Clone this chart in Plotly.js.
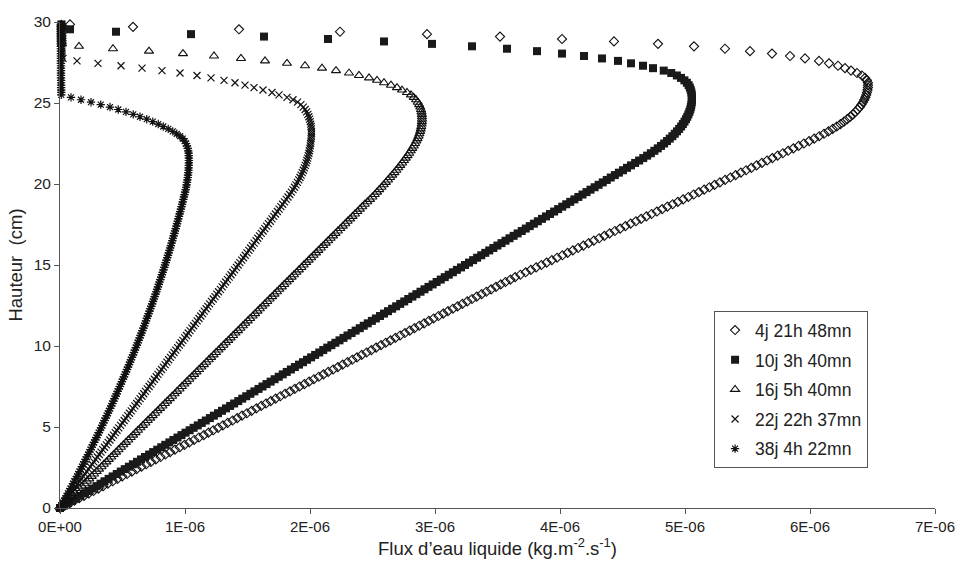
<!DOCTYPE html>
<html>
<head>
<meta charset="utf-8">
<script src="https://cdn.plot.ly/plotly-3.0.1.min.js"></script>
<style>html,body{margin:0;padding:0;background:#fff;}#chart{width:960px;height:563px;}</style>
</head>
<body>
<div id="chart"></div>
<script>
// Heights (cm)
const hauteur = [
0,0.15,0.3,0.45,0.6,0.75,0.9,1.05,1.2,1.35,1.5,1.65,1.8,1.95,2.1,2.25,2.4,2.55,2.7,2.85,
3,3.15,3.3,3.45,3.6,3.75,3.9,4.05,4.2,4.35,4.5,4.65,4.8,4.95,5.1,5.25,5.4,5.55,5.7,5.85,
6,6.15,6.3,6.45,6.6,6.75,6.9,7.05,7.2,7.35,7.5,7.65,7.8,7.95,8.1,8.25,8.4,8.55,8.7,8.85,
9,9.15,9.3,9.45,9.6,9.75,9.9,10.05,10.2,10.35,10.5,10.65,10.8,10.95,11.1,11.25,11.4,11.55,11.7,11.85,
12,12.15,12.3,12.45,12.6,12.75,12.9,13.05,13.2,13.35,13.5,13.65,13.8,13.95,14.1,14.25,14.4,14.55,14.7,14.85,
15,15.15,15.3,15.45,15.6,15.75,15.9,16.05,16.2,16.35,16.5,16.65,16.8,16.95,17.1,17.25,17.4,17.55,17.7,17.85,
18,18.15,18.3,18.45,18.6,18.75,18.9,19.05,19.2,19.35,19.5,19.65,19.8,19.95,20.1,20.25,20.4,20.55,20.7,20.85,
21,21.15,21.3,21.45,21.6,21.75,21.9,22.05,22.2,22.35,22.5,22.65,22.8,22.95,23.1,23.25,23.4,23.55,23.7,23.85,
24,24.15,24.3,24.45,24.6,24.75,24.9,25.05,25.2,25.35,25.5,25.65,25.8,25.95,26.1,26.25,26.4,26.55,26.7,26.85,
27,27.15,27.3,27.45,27.6,27.75,27.9,28.05,28.2,28.35,28.5,28.65,28.8,28.95,29.1,29.25,29.4,29.55,29.7,29.85
];

// Liquid water flux, in units of 1E-06 kg.m-2.s-1
const flux_4j = [
0,0.038,0.077,0.115,0.153,0.192,0.230,0.268,0.307,0.345,0.383,0.422,0.460,0.498,0.537,0.575,0.613,0.652,0.690,0.728,
0.767,0.805,0.843,0.881,0.920,0.958,0.996,1.035,1.073,1.111,1.150,1.188,1.226,1.265,1.303,1.341,1.380,1.418,1.456,1.495,
1.533,1.571,1.610,1.648,1.686,1.725,1.763,1.801,1.840,1.878,1.916,1.955,1.993,2.031,2.070,2.108,2.146,2.185,2.223,2.261,
2.300,2.338,2.376,2.414,2.453,2.491,2.529,2.568,2.606,2.644,2.683,2.721,2.759,2.798,2.836,2.874,2.913,2.951,2.989,3.028,
3.066,3.104,3.143,3.181,3.219,3.258,3.296,3.334,3.373,3.411,3.449,3.488,3.526,3.564,3.603,3.641,3.683,3.725,3.767,3.809,
3.851,3.893,3.935,3.977,4.019,4.061,4.103,4.145,4.187,4.229,4.271,4.313,4.355,4.397,4.439,4.481,4.523,4.565,4.607,4.649,
4.691,4.733,4.775,4.817,4.859,4.901,4.943,4.985,5.027,5.069,5.111,5.153,5.195,5.237,5.279,5.321,5.363,5.405,5.447,5.489,
5.531,5.573,5.615,5.657,5.699,5.741,5.783,5.825,5.867,5.909,5.951,5.993,6.034,6.074,6.112,6.148,6.182,6.214,6.244,6.272,
6.298,6.322,6.344,6.364,6.382,6.398,6.412,6.424,6.434,6.443,6.450,6.456,6.460,6.463,6.464,6.463,6.455,6.440,6.415,6.376,
6.328,6.280,6.224,6.152,6.072,5.960,5.840,5.696,5.520,5.320,5.072,4.784,4.432,4.016,3.520,2.936,2.240,1.432,0.584,0.080
];
const flux_10j = [
0,0.032,0.065,0.097,0.130,0.162,0.194,0.227,0.259,0.292,0.324,0.356,0.389,0.421,0.454,0.486,0.518,0.551,0.583,0.616,
0.648,0.680,0.713,0.745,0.778,0.810,0.842,0.875,0.907,0.940,0.972,1.004,1.037,1.069,1.102,1.134,1.166,1.199,1.231,1.264,
1.296,1.328,1.361,1.393,1.426,1.458,1.490,1.523,1.555,1.588,1.620,1.652,1.685,1.717,1.750,1.782,1.814,1.847,1.879,1.912,
1.944,1.976,2.009,2.041,2.074,2.106,2.138,2.171,2.203,2.236,2.268,2.300,2.333,2.365,2.398,2.430,2.462,2.495,2.527,2.560,
2.592,2.624,2.657,2.689,2.722,2.754,2.786,2.819,2.851,2.884,2.916,2.948,2.981,3.013,3.046,3.078,3.110,3.143,3.175,3.208,
3.240,3.272,3.305,3.337,3.370,3.402,3.434,3.467,3.499,3.532,3.564,3.596,3.629,3.661,3.694,3.726,3.758,3.791,3.823,3.856,
3.888,3.920,3.953,3.985,4.018,4.050,4.082,4.115,4.147,4.180,4.212,4.244,4.277,4.309,4.342,4.374,4.406,4.439,4.471,4.504,
4.536,4.568,4.601,4.633,4.666,4.697,4.727,4.755,4.782,4.808,4.833,4.856,4.878,4.899,4.918,4.936,4.953,4.969,4.983,4.996,
5.008,5.018,5.027,5.035,5.042,5.047,5.051,5.054,5.055,5.055,5.054,5.051,5.046,5.039,5.029,5.015,4.995,4.968,4.935,4.890,
4.830,4.744,4.664,4.568,4.464,4.336,4.192,4.016,3.816,3.576,3.296,2.976,2.592,2.144,1.632,1.048,0.448,0.080,0.014,0.012
];
const flux_16j = [
0,0.020,0.039,0.059,0.078,0.098,0.117,0.137,0.156,0.176,0.195,0.215,0.234,0.254,0.273,0.293,0.312,0.332,0.351,0.371,
0.390,0.410,0.429,0.449,0.468,0.488,0.507,0.527,0.546,0.566,0.585,0.605,0.624,0.644,0.663,0.683,0.702,0.722,0.741,0.761,
0.780,0.800,0.819,0.839,0.858,0.878,0.897,0.917,0.936,0.956,0.975,0.995,1.014,1.034,1.053,1.073,1.092,1.112,1.131,1.151,
1.170,1.190,1.209,1.229,1.248,1.268,1.287,1.307,1.326,1.346,1.365,1.385,1.404,1.424,1.443,1.463,1.482,1.502,1.521,1.541,
1.560,1.580,1.599,1.619,1.638,1.658,1.677,1.697,1.716,1.736,1.755,1.775,1.794,1.814,1.833,1.853,1.872,1.892,1.911,1.931,
1.950,1.970,1.989,2.009,2.028,2.048,2.067,2.087,2.106,2.126,2.145,2.165,2.184,2.204,2.223,2.243,2.262,2.282,2.301,2.321,
2.340,2.360,2.379,2.399,2.418,2.438,2.459,2.480,2.499,2.518,2.536,2.554,2.572,2.590,2.607,2.624,2.641,2.658,2.675,2.691,
2.707,2.722,2.737,2.752,2.766,2.780,2.793,2.806,2.818,2.830,2.841,2.851,2.860,2.868,2.875,2.881,2.886,2.890,2.893,2.895,
2.896,2.896,2.895,2.892,2.888,2.882,2.873,2.862,2.848,2.830,2.808,2.776,2.736,2.696,2.648,2.592,2.536,2.472,2.392,2.312,
2.208,2.096,1.960,1.816,1.640,1.448,1.232,0.984,0.712,0.424,0.152,0.016,0.014,0.014,0.013,0.013,0.012,0.012,0.012,0.011
];
const flux_22j = [
0,0.014,0.029,0.043,0.057,0.071,0.086,0.100,0.114,0.128,0.143,0.157,0.171,0.185,0.200,0.214,0.228,0.242,0.257,0.271,
0.285,0.299,0.314,0.328,0.342,0.356,0.371,0.385,0.399,0.413,0.428,0.442,0.456,0.470,0.485,0.499,0.513,0.527,0.542,0.556,
0.570,0.584,0.599,0.613,0.627,0.641,0.656,0.670,0.684,0.698,0.713,0.727,0.741,0.755,0.770,0.784,0.798,0.812,0.827,0.841,
0.855,0.869,0.884,0.898,0.912,0.926,0.941,0.955,0.969,0.983,0.998,1.012,1.026,1.040,1.055,1.069,1.083,1.097,1.112,1.126,
1.140,1.154,1.169,1.183,1.197,1.211,1.226,1.240,1.254,1.268,1.283,1.297,1.311,1.325,1.340,1.354,1.368,1.382,1.397,1.411,
1.425,1.439,1.454,1.468,1.482,1.496,1.511,1.525,1.539,1.553,1.568,1.582,1.596,1.610,1.625,1.639,1.653,1.667,1.682,1.696,
1.710,1.724,1.739,1.753,1.767,1.781,1.796,1.810,1.824,1.838,1.851,1.864,1.876,1.888,1.899,1.910,1.920,1.929,1.938,1.947,
1.955,1.962,1.969,1.975,1.981,1.986,1.991,1.995,1.999,2.002,2.005,2.007,2.009,2.011,2.012,2.012,2.011,2.009,2.006,2.002,
1.997,1.991,1.983,1.973,1.961,1.946,1.927,1.900,1.864,1.816,1.752,1.696,1.624,1.552,1.480,1.400,1.312,1.208,1.096,0.960,
0.816,0.656,0.488,0.304,0.136,0.024,0.016,0.015,0.015,0.014,0.014,0.013,0.013,0.013,0.012,0.012,0.012,0.011,0.011,0.011
];
const flux_38j = [
0,0.011,0.021,0.032,0.043,0.053,0.064,0.074,0.084,0.095,0.105,0.115,0.126,0.136,0.146,0.156,0.166,0.176,0.186,0.196,
0.205,0.215,0.225,0.235,0.244,0.254,0.263,0.273,0.282,0.292,0.301,0.310,0.320,0.329,0.338,0.347,0.356,0.365,0.374,0.383,
0.392,0.401,0.410,0.419,0.427,0.436,0.445,0.453,0.462,0.470,0.479,0.487,0.495,0.503,0.512,0.520,0.528,0.536,0.544,0.552,
0.560,0.568,0.576,0.584,0.592,0.599,0.607,0.615,0.622,0.630,0.637,0.645,0.652,0.659,0.667,0.674,0.681,0.688,0.695,0.702,
0.709,0.716,0.723,0.730,0.737,0.744,0.751,0.757,0.764,0.771,0.777,0.784,0.790,0.796,0.803,0.809,0.815,0.822,0.828,0.834,
0.840,0.846,0.852,0.858,0.864,0.870,0.876,0.881,0.887,0.893,0.898,0.904,0.909,0.915,0.920,0.926,0.931,0.936,0.942,0.947,
0.952,0.957,0.962,0.967,0.972,0.977,0.982,0.987,0.991,0.996,1.001,1.005,1.009,1.013,1.016,1.019,1.022,1.024,1.026,1.028,
1.029,1.030,1.031,1.031,1.031,1.030,1.029,1.026,1.022,1.016,1.008,0.998,0.982,0.960,0.934,0.902,0.866,0.826,0.786,0.742,
0.694,0.640,0.586,0.528,0.466,0.400,0.326,0.248,0.168,0.088,0.010,0.010,0.010,0.009,0.009,0.009,0.009,0.008,0.008,0.008,
0.008,0.008,0.008,0.007,0.007,0.007,0.007,0.007,0.007,0.007,0.006,0.006,0.006,0.006,0.006,0.006,0.006,0.006,0.006,0.006
];

const seriesNames = ['4j 21h 48mn', '10j 3h 40mn', '16j 5h 40mn', '22j 22h 37mn', '38j 4h 22mn'];
const seriesFlux = [flux_4j, flux_10j, flux_16j, flux_22j, flux_38j];
const xTickVals = [0, 1, 2, 3, 4, 5, 6, 7];
const xTickText = ['0E+00', '1E-06', '2E-06', '3E-06', '4E-06', '5E-06', '6E-06', '7E-06'];
const yTickVals = [0, 5, 10, 15, 20, 25, 30];

const markerStyles = [
  {symbol: 'diamond-open', size: 7, color: '#111', line: {width: 1.1, color: '#111'}},
  {symbol: 'square', size: 8, color: '#1a1a1a', line: {width: 0}},
  {symbol: 'triangle-up-open', size: 8, color: '#111', line: {width: 1.1, color: '#111'}},
  {symbol: 'x-thin-open', size: 7, color: '#111', line: {width: 1.2, color: '#111'}},
  {symbol: 'asterisk-open', size: 7, color: '#111', line: {width: 1.2, color: '#111'}}
];

const FONT = 'Liberation Sans, Arial, Helvetica, sans-serif';
const SCALE = 1e-6;

const traces = seriesNames.map((name, k) => ({
  type: 'scatter',
  mode: 'markers',
  name: name,
  legendgroup: 'g' + k,
  x: seriesFlux[k].map(v => v * SCALE),
  y: hauteur,
  marker: markerStyles[k],
  cliponaxis: false,
  hoverinfo: 'x+y+name'
}));

const layout = {
  width: 960,
  height: 563,
  margin: {l: 60, r: 25, t: 22, b: 55, autoexpand: false},
  paper_bgcolor: '#ffffff',
  plot_bgcolor: '#ffffff',
  font: {family: FONT, color: '#222', size: 15},
  showlegend: true,
  legend: {
    x: 0.7475, y: 0.405, xanchor: 'left', yanchor: 'top',
    bgcolor: '#ffffff', bordercolor: '#555', borderwidth: 1,
    font: {family: FONT, size: 17.5, color: '#222'},
    traceorder: 'grouped',
    tracegroupgap: 3.9,
    itemsizing: 'trace'
  },
  xaxis: {
    range: [0, 7 * SCALE],
    tickmode: 'array',
    tickvals: xTickVals.map(v => v * SCALE),
    ticktext: xTickText,
    ticks: 'outside', ticklen: 5, tickwidth: 1, tickcolor: '#555',
    showline: true, linecolor: '#555', linewidth: 1,
    showgrid: false, zeroline: false,
    tickfont: {family: FONT, size: 15, color: '#222'},
    automargin: false,
    title: {text: 'Flux d’eau liquide (kg.m<sup>-2</sup>.s<sup>-1</sup>)', font: {family: FONT, size: 18.5, color: '#222'}, standoff: 4}
  },
  yaxis: {
    range: [0, 30],
    tickmode: 'array',
    tickvals: yTickVals,
    ticks: 'outside', ticklen: 5, tickwidth: 1, tickcolor: '#555',
    showline: true, linecolor: '#555', linewidth: 1,
    showgrid: false, zeroline: false,
    tickfont: {family: FONT, size: 15.5, color: '#222'},
    automargin: false,
    title: {text: 'Hauteur  (cm)', font: {family: FONT, size: 18.5, color: '#222'}, standoff: 6}
  }
};

Plotly.newPlot('chart', traces, layout, {staticPlot: true, displayModeBar: false});
</script>
</body>
</html>
